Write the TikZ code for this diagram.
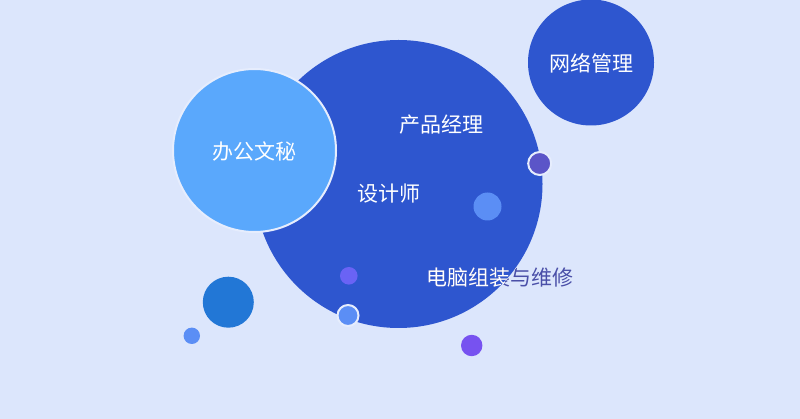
\documentclass[tikz,border=0pt]{standalone}
\usepackage{fontspec}
\newfontfamily\cjk{Noto Sans CJK SC}
\definecolor{bg}{HTML}{DCE6FC}
\definecolor{deep}{HTML}{2E56CF}
\definecolor{sky}{HTML}{5AA8FC}
\definecolor{ring}{HTML}{E6EDFD}
\definecolor{violet}{HTML}{5B55C8}
\definecolor{mid}{HTML}{5B8EF5}
\definecolor{lilac}{HTML}{6A63F5}
\definecolor{ocean}{HTML}{2277D6}
\definecolor{purple}{HTML}{7752F0}
\definecolor{outtext}{HTML}{4A4FA8}
\tikzset{
  bubble/.style={circle, inner sep=0pt, outer sep=0pt, minimum size=#1},
  label20/.style={font=\cjk\fontsize{21}{25}\selectfont, text=white, inner sep=0pt},
}
\begin{document}
\begin{tikzpicture}[x=1pt,y=-1pt]
\fill[bg] (0,0) rectangle (800,419);
\useasboundingbox (0,0) rectangle (800,419);
% big circle
\node[bubble=288pt, fill=deep] (big) at (398.5,184) {};
\node[bubble=126pt, fill=deep] (net) at (591,62.5) {};
\node[bubble=163pt, fill=sky, draw=ring, line width=2pt] (office) at (254.5,150.5) {};
% small bubbles
\node[bubble=23pt, fill=violet, draw=ring, line width=2pt] (b1) at (539.7,163.5) {};
\node[bubble=28pt, fill=mid] (b2) at (487.5,206.5) {};
\node[bubble=17.6pt, fill=lilac] (b3) at (348.8,275.8) {};
\node[bubble=21pt, fill=mid, draw=ring, line width=2pt] (b4) at (348,315.5) {};
\node[bubble=51pt, fill=ocean] (b5) at (228.3,302.2) {};
\node[bubble=16.4pt, fill=mid] (b6) at (191.8,335.8) {};
\node[bubble=21.4pt, fill=purple] (b7) at (471.7,345.5) {};
% labels
\node[label20] (t1) at (591,63) {网络管理};
\node[label20] (t2) at (441,125) {产品经理};
\node[label20] (t3) at (254.5,151) {办公文秘};
\node[label20] (t4) at (389,194) {设计师};
\node[label20, text=outtext] (t5) at (499.5,277.5) {电脑组装与维修};
\begin{scope}
  \clip (398.5,184) circle (144);
  \node[label20] (t5w) at (499.5,277.5) {电脑组装与维修};
\end{scope}
\end{tikzpicture}
\end{document}
